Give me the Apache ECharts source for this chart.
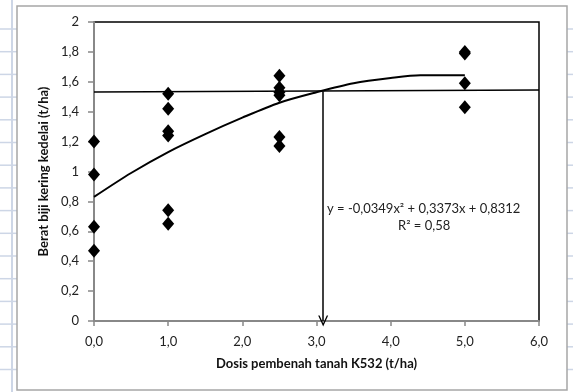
<!DOCTYPE html>
<html>
<head>
<meta charset="utf-8">
<script src="https://cdn.jsdelivr.net/npm/echarts@6/dist/echarts.min.js"></script>
<style>
  html, body { margin: 0; padding: 0; background: #fff; }
  #chart { width: 573px; height: 392px; }
</style>
</head>
<body>
<div id="chart"></div>
<script>
// observed points (dose, yield)
const dose0 = [1.2, 0.98, 0.63, 0.47];
const dose1 = [1.52, 1.42, 1.27, 1.24, 0.74, 0.65];
const dose25 = [1.64, 1.56, 1.53, 1.51, 1.23, 1.17];
const dose5 = [1.8, 1.79, 1.59, 1.43];
const doses = [0, 1, 2.5, 5];
const yields = [dose0, dose1, dose25, dose5];

// trend curve
const curveX = [0, 0.5, 1, 1.5, 2, 2.5, 3, 3.5, 4, 4.4, 5];
const curveY = [0.83, 0.99, 1.13, 1.25, 1.36, 1.46, 1.53, 1.59, 1.625, 1.643, 1.643];

// horizontal reference level and vertical drop
const levelX = [0, 6];
const levelY = [1.532, 1.545];
const dropX = 3.09;
const dropY = [1.535, 0];

const xTicks = ["0,0", "1,0", "2,0", "3,0", "4,0", "5,0", "6,0"];
const eqText = "y = -0,0349x² + 0,3373x + 0,8312";
const r2Text = "R² = 0,58";

const font = "Lato, 'Open Sans', sans-serif";

let scatterData = [];
doses.forEach((d, i) => {
  yields[i].forEach((v) => scatterData.push([d, v]));
});

const chart = echarts.init(document.getElementById("chart"));

// spreadsheet rows behind the chart
const bg = [];
for (let y = 29; y < 392; y += 22.7) {
  bg.push({ type: "line", shape: { x1: 0, y1: y, x2: 17, y2: y }, style: { stroke: "#cdd6e6", lineWidth: 1.5 }, z: -10 });
  bg.push({ type: "line", shape: { x1: 567, y1: y, x2: 573, y2: y }, style: { stroke: "#cdd6e6", lineWidth: 1.5 }, z: -10 });
}
bg.push({ type: "line", shape: { x1: 12, y1: 0, x2: 12, y2: 392 }, style: { stroke: "#cdd6e6", lineWidth: 2 }, z: -10 });
bg.push({ type: "rect", shape: { x: 17, y: 6, width: 550, height: 384 }, style: { fill: "#fff", stroke: "#a6a6a6", lineWidth: 1.5 }, z: -5 });

chart.setOption({
  animation: false,
  grid: { left: 94, right: 34, top: 22, bottom: 71, show: true, borderColor: "#000", borderWidth: 1.5, backgroundColor: "transparent" },
  graphic: bg.concat([
    { type: "text", left: 327, top: 202, style: { text: eqText, font: "13px " + font, fill: "#222" }, z: 10 },
    { type: "text", left: 398, top: 219, style: { text: r2Text, font: "13px " + font, fill: "#222" }, z: 10 },
  ]),
  xAxis: {
    type: "value",
    min: 0,
    max: 6,
    interval: 1,
    name: "Dosis pembenah tanah K532 (t/ha)",
    nameLocation: "middle",
    nameGap: 36,
    nameTextStyle: { fontFamily: font, fontWeight: "bold", fontSize: 13, color: "#111" },
    axisLine: { show: true, lineStyle: { color: "#888", width: 2 } },
    axisTick: { show: true, length: 5, lineStyle: { color: "#888", width: 1.5 } },
    axisLabel: { formatter: (v) => xTicks[Math.round(v)], fontFamily: font, fontSize: 13, color: "#222", margin: 14 },
    splitLine: { show: false },
  },
  yAxis: {
    type: "value",
    min: 0,
    max: 2,
    interval: 0.2,
    name: "Berat biji kering kedelai (t/ha)",
    nameLocation: "middle",
    nameGap: 37,
    nameTextStyle: { fontFamily: font, fontWeight: "bold", fontSize: 13, color: "#111" },
    axisLine: { show: true, lineStyle: { color: "#888", width: 2 } },
    axisTick: { show: true, length: 6, lineStyle: { color: "#888", width: 1.5 } },
    axisLabel: {
      formatter: (v) => String(Math.round(v * 10) / 10).replace(".", ","),
      fontFamily: font,
      fontSize: 13,
      color: "#222",
      margin: 15,
    },
    splitLine: { show: false },
  },
  series: [
    {
      name: "level",
      type: "line",
      data: levelX.map((x, i) => [x, levelY[i]]),
      showSymbol: false,
      symbol: "none",
      lineStyle: { color: "#000", width: 1.5 },
      z: 2,
      markLine: {
        silent: true,
        symbol: ["none", "path://M5,0 L10,9 L8.6,9 L5,2.6 L1.4,9 L0,9 Z"],
        symbolSize: [10, 11],
        label: { show: false },
        lineStyle: { color: "#000", width: 1.5, type: "solid" },
        data: [[{ coord: [dropX, dropY[0]] }, { coord: [dropX, dropY[1]] }]],
      },
    },
    {
      name: "trend",
      type: "line",
      data: curveX.map((x, i) => [x, curveY[i]]),
      smooth: 0.3,
      symbol: "none",
      lineStyle: { color: "#000", width: 2 },
      z: 3,
    },
    {
      name: "data",
      type: "scatter",
      data: scatterData,
      symbol: "diamond",
      symbolSize: [12, 14],
      itemStyle: { color: "#000", opacity: 1 },
      z: 5,
    },
  ],
});
</script>
</body>
</html>
